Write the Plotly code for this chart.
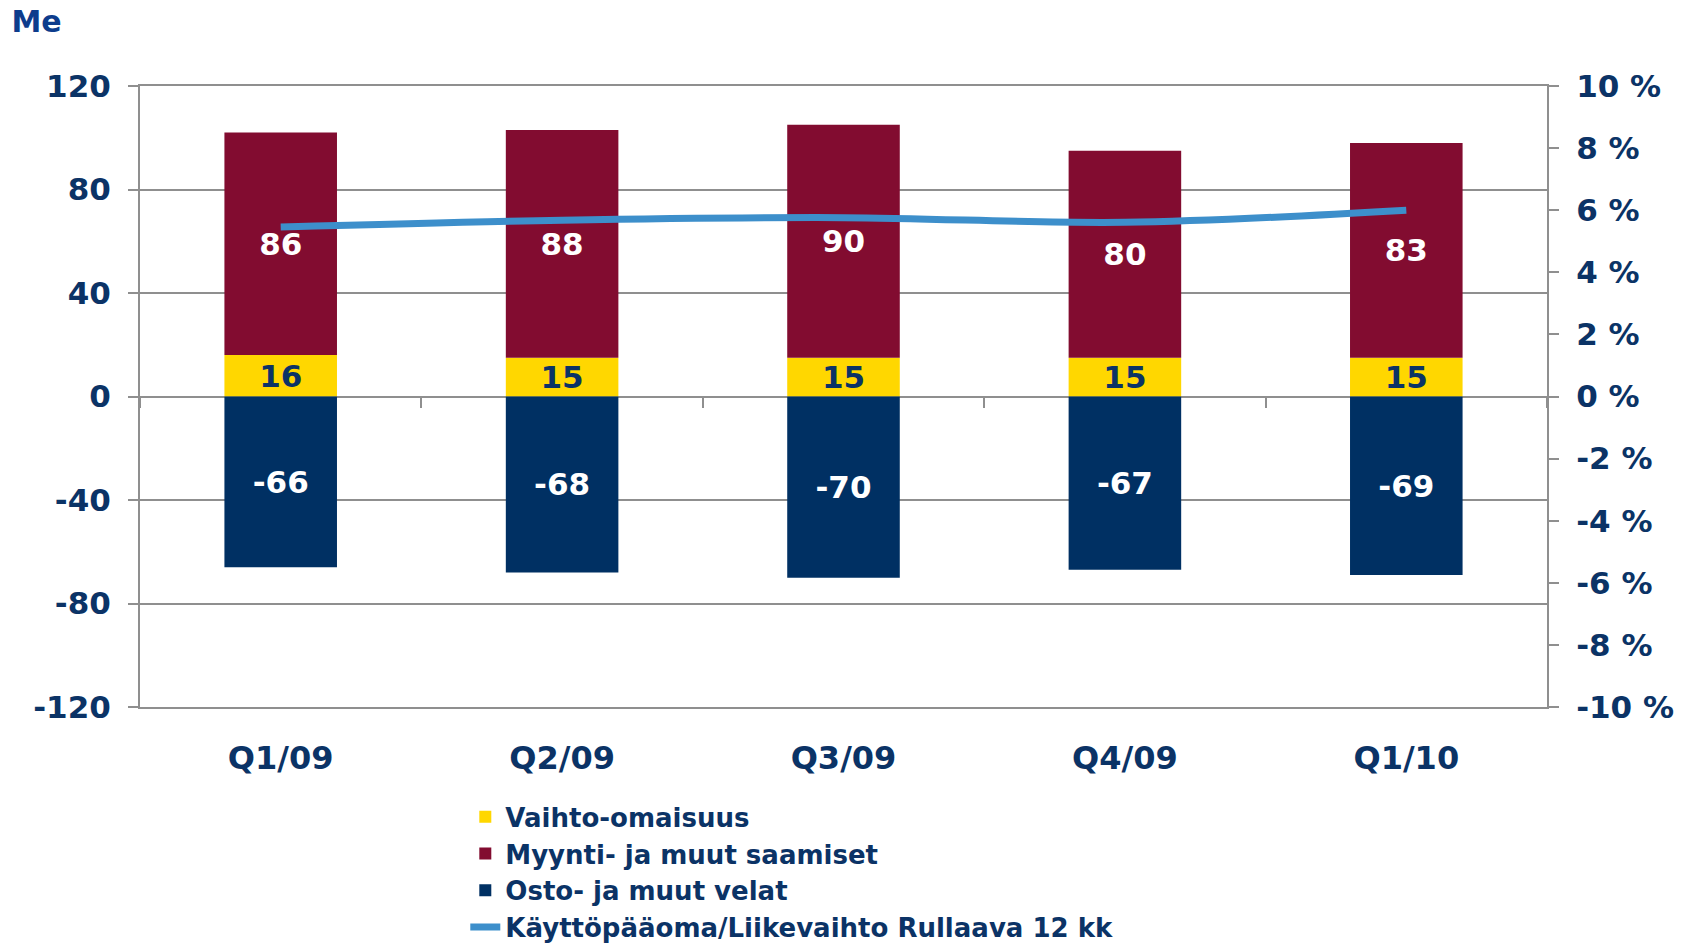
import plotly.graph_objects as go

quarters = ["Q1/09", "Q2/09", "Q3/09", "Q4/09", "Q1/10"]
vaihto = [16, 15, 15, 15, 15]
myynti = [86, 88, 90, 80, 83]
osto = [-66, -68, -70, -67, -69]
kayttopaaoma = [5.46, 5.68, 5.76, 5.61, 6.0]

me_ticks = [120, 80, 40, 0, -40, -80, -120]
me_ticktext = ["120", "80", "40", "0", "-40", "-80", "-120"]
pct_ticks = [10, 8, 6, 4, 2, 0, -2, -4, -6, -8, -10]
pct_ticktext = ["10 %", "8 %", "6 %", "4 %", "2 %", "0 %", "-2 %", "-4 %", "-6 %", "-8 %", "-10 %"]

navy_text = "#0b3366"
grid_grey = "#8f8f8f"
font_family = "DejaVu Sans"

fig = go.Figure()

fig.add_trace(go.Bar(x=quarters, y=vaihto, name="Vaihto-omaisuus", marker_color="#ffd700",
                     text=[str(v) for v in vaihto], textfont=dict(color=navy_text, size=31)))
fig.add_trace(go.Bar(x=quarters, y=myynti, name="Myynti- ja muut saamiset", marker_color="#820c30",
                     text=[str(v) for v in myynti], textfont=dict(color="white", size=31)))
fig.add_trace(go.Bar(x=quarters, y=osto, name="Osto- ja muut velat", marker_color="#003063",
                     text=[str(v) for v in osto], textfont=dict(color="white", size=31)))
fig.update_traces(textposition="inside", insidetextanchor="middle", textangle=0,
                  constraintext="none", marker_line_width=0, hoverinfo="skip")

# line sits on its own category axis (x2) which also draws the tick marks on the zero line
fig.add_trace(go.Scatter(x=quarters, y=kayttopaaoma, name="Käyttöpääoma/Liikevaihto Rullaava 12 kk",
                         mode="lines", line=dict(color="#3d8fcb", width=7, shape="spline"),
                         xaxis="x2", yaxis="y2", hoverinfo="skip"))

fig.update_layout(
    width=1690, height=944,
    margin=dict(l=140, r=143, t=86, b=237, autoexpand=False),
    plot_bgcolor="white", paper_bgcolor="white",
    barmode="relative", bargap=0.6,
    font=dict(family=font_family, weight="bold", color=navy_text, size=30),
    title=dict(text="Me", x=11.5 / 1690, xref="container", xanchor="left",
               y=1 - 21 / 944, yref="container", yanchor="middle",
               font=dict(family=font_family, weight="bold", size=30, color="#0d3c8c")),
    xaxis=dict(type="category", showgrid=False, zeroline=False, ticks="",
               showline=True, mirror=True, linecolor=grid_grey, linewidth=2,
               tickfont=dict(size=32), ticklabelstandoff=22),
    xaxis2=dict(type="category", overlaying="x", anchor="free", position=0.5,
                range=[-0.5, len(quarters) - 0.5],
                showgrid=False, zeroline=False, showline=False, showticklabels=False,
                ticks="outside", tickson="boundaries", ticklen=10, tickwidth=2, tickcolor=grid_grey),
    yaxis=dict(range=[-120, 120], tickvals=me_ticks, ticktext=me_ticktext,
               showgrid=True, gridcolor=grid_grey, gridwidth=2, zeroline=False,
               showline=True, linecolor=grid_grey, linewidth=2,
               ticks="outside", ticklen=10, tickwidth=2, tickcolor=grid_grey,
               tickfont=dict(size=31), ticklabelstandoff=11),
    yaxis2=dict(range=[-10, 10], tickvals=pct_ticks, ticktext=pct_ticktext,
                overlaying="y", side="right", anchor="x",
                showgrid=False, zeroline=False,
                showline=True, linecolor=grid_grey, linewidth=2,
                ticks="outside", ticklen=10, tickwidth=2, tickcolor=grid_grey,
                tickfont=dict(size=31), ticklabelstandoff=11),
    legend=dict(x=0.2312, y=-0.139, xanchor="left", yanchor="top", traceorder="normal",
                font=dict(size=26, color=navy_text), bgcolor="rgba(0,0,0,0)"),
    showlegend=True,
)

# drop the browser's default body margin so the figure sits at the page corner
fig.write_html("out.html", config={"displayModeBar": False},
               post_script="document.body.style.margin = '0';")
